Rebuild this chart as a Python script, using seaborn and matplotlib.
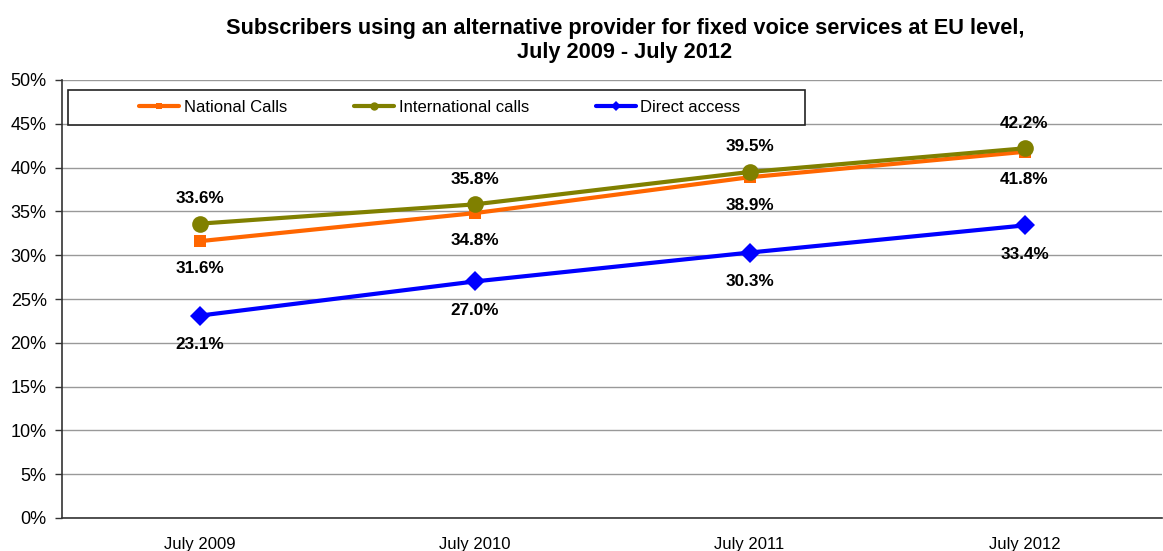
import matplotlib
matplotlib.use("Agg")
import matplotlib.pyplot as plt
from matplotlib.patches import Rectangle
from matplotlib.ticker import FixedLocator, PercentFormatter
import seaborn as sns
import pandas as pd

# Survey dates and shares of subscribers (%)
periods = ["July 2009", "July 2010", "July 2011", "July 2012"]
national_calls = [31.6, 34.8, 38.9, 41.8]
international_calls = [33.6, 35.8, 39.5, 42.2]
direct_access = [23.1, 27.0, 30.3, 33.4]

series_names = ["National Calls", "International calls", "Direct access"]
series_values = [national_calls, international_calls, direct_access]
colors = {"National Calls": "#FF6600", "International calls": "#808000", "Direct access": "#0000FF"}
markers = {"National Calls": "s", "International calls": "o", "Direct access": "D"}
marker_sizes = {"National Calls": 8, "International calls": 12, "Direct access": 10}
label_offsets = {"National Calls": -20, "International calls": 18, "Direct access": -21}

rows = []
for name, vals in zip(series_names, series_values):
    for i, (p, v) in enumerate(zip(periods, vals)):
        rows.append({"pos": i, "period": p, "series": name, "value": v})
df = pd.DataFrame(rows)

sns.set_theme(style="white")
plt.rcParams["font.family"] = ["Liberation Sans", "DejaVu Sans"]
plt.rcParams["text.color"] = "black"

fig = plt.figure(figsize=(11.63, 5.51), dpi=100)
ax = fig.add_axes([62 / 1163, 1 - 518 / 551, 1100 / 1163, 438 / 551])

for name in series_names:
    sub = df[df["series"] == name]
    sns.lineplot(data=sub, x="pos", y="value", ax=ax, color=colors[name],
                 marker=markers[name], markersize=marker_sizes[name],
                 markeredgewidth=0, linewidth=3, label=name, legend=False)
    for _, r in sub.iterrows():
        ax.annotate(f"{r['value']:.1f}%", (r["pos"], r["value"]),
                    xytext=(0, label_offsets[name]), textcoords="offset points",
                    ha="center", va="center", fontsize=12.3, fontweight="bold",
                    color="black")

ax.set_xlim(-0.5, 3.5)
ax.set_ylim(0, 50)
ax.yaxis.set_major_locator(FixedLocator(range(0, 51, 5)))
ax.yaxis.set_major_formatter(PercentFormatter(decimals=0))
ax.set_xticks(range(len(periods)))
ax.set_xticklabels(periods)
ax.xaxis.set_minor_locator(FixedLocator([0.5, 1.5, 2.5]))
ax.tick_params(axis="x", which="major", length=0, pad=14, labelsize=12, labelcolor="black")
ax.tick_params(axis="x", which="minor", length=5, width=1, color="#333333", direction="out")
ax.tick_params(axis="y", which="major", length=5, width=1, color="#333333", direction="out",
               labelsize=13, labelcolor="black", left=True, pad=6)
ax.set_xlabel("")
ax.set_ylabel("")

ax.grid(axis="y", color="#999999", linewidth=1)
ax.set_axisbelow(True)
for side in ["top", "right"]:
    ax.spines[side].set_visible(False)
for side in ["left", "bottom"]:
    ax.spines[side].set_color("#333333")
    ax.spines[side].set_linewidth(1.2)

# legend box with its own frame
box = Rectangle((6 / 1100, 393 / 438), 737 / 1100, 35 / 438, transform=ax.transAxes,
                facecolor="white", edgecolor="#222222", linewidth=1.2, zorder=5)
ax.add_patch(box)
handles, labels = ax.get_legend_handles_labels()
leg = ax.legend(handles, labels, loc="center", bbox_to_anchor=(378 / 1100, 411 / 438),
                ncol=3, frameon=False, fontsize=12, handlelength=2.4, handletextpad=0.25,
                columnspacing=4.05, markerscale=0.5, labelcolor="black")
leg.set_zorder(6)

fig.suptitle("Subscribers using an alternative provider for fixed voice services at EU level,\n"
             "July 2009 - July 2012", x=625 / 1163, y=1 - 18 / 551, va="top",
             fontsize=15.7, fontweight="bold", linespacing=1.2, color="black")

fig.savefig("out.png", dpi=100, facecolor="white")
